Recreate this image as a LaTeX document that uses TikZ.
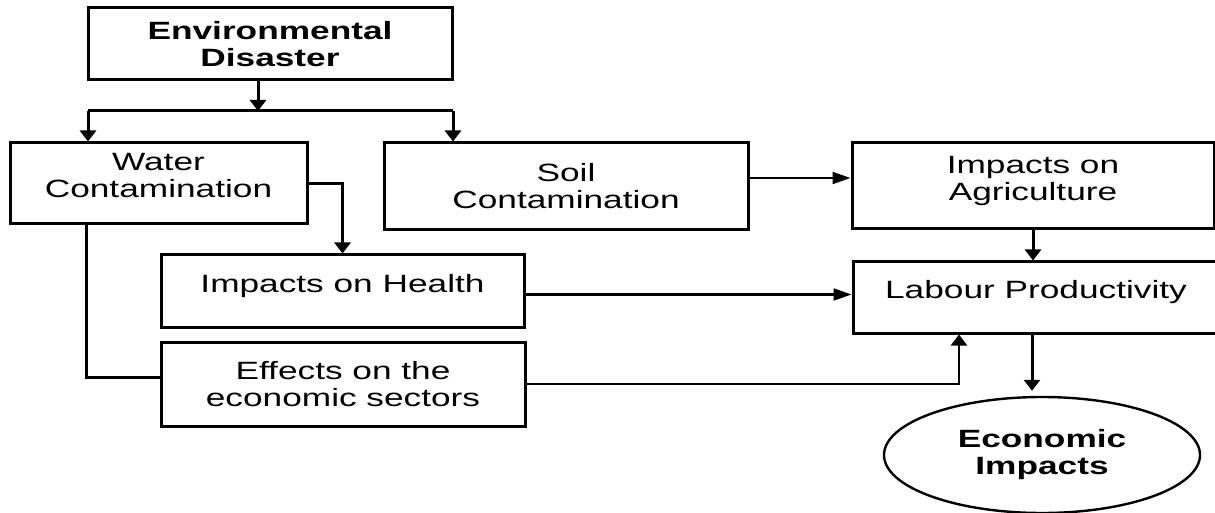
\documentclass[tikz,border=0pt]{standalone}
\usepackage{fontspec}
\setmainfont[FakeStretch=1.41]{Liberation Sans}
\usetikzlibrary{arrows.meta,shapes.geometric}
\tikzstyle{flowbox} = [draw=black, line width=1.5pt, rectangle,
    align=center, inner sep=0pt, font=\fontsize{12.5}{13.5}\selectfont]
\tikzstyle{hightext} = [text depth=8pt]
\tikzstyle{oval} = [draw=black, line width=1.2pt, ellipse, align=center,
    inner sep=0pt, font=\fontsize{12.5}{13.5}\selectfont\bfseries]
\tikzstyle{thickline} = [line width=1.5pt]
\tikzstyle{thinline} = [line width=1.1pt]
\tikzstyle{shortarrow} = [-{Triangle[length=5.5pt,width=8pt]}]
\tikzstyle{longarrow} = [-{Triangle[length=9pt,width=6pt]}]

\begin{document}
\begin{tikzpicture}[x=0.5pt, y=-0.5pt]
\useasboundingbox (0,0) rectangle (1215,513);
% boxes
\node [flowbox, minimum width=182pt, minimum height=36pt, font=\fontsize{12.5}{13.5}\selectfont\bfseries]
    (dis) at (270,44) {Environmental\\Disaster};
\node [flowbox, hightext, minimum width=148.5pt, minimum height=40.5pt]
    (water) at (158.5,183.5) {Water\\Contamination};
\node [flowbox, minimum width=182pt, minimum height=43.5pt]
    (soil) at (566,186.5) {Soil\\Contamination};
\node [flowbox, hightext, minimum width=181pt, minimum height=43pt]
    (agri) at (1033,186) {Impacts on\\Agriculture};
\node [flowbox, hightext, minimum width=181.5pt, minimum height=36pt]
    (health) at (342.5,291) {Impacts on Health};
\node [flowbox, minimum width=182pt, minimum height=42pt]
    (effects) at (343,384) {Effects on the\\economic sectors};
\node [flowbox, hightext, minimum width=183pt, minimum height=35.5pt]
    (labour) at (1036,297.5) {Labour Productivity};
\node [oval, minimum width=158pt, minimum height=58pt]
    (econ) at (1042,455) {Economic\\Impacts};

% connectors
\coordinate (fork) at (258,111);
\coordinate (forkl) at (88,111);
\coordinate (forkr) at (453,111);
\coordinate (wbend) at (86,377);
\draw [thickline, shortarrow] (fork |- dis.south) -- (fork);
\draw [thickline] (forkl) -- (forkr);
\draw [thickline, shortarrow] (forkl) -- (forkl |- water.north);
\draw [thickline, shortarrow] (forkr) -- (forkr |- soil.north);
\draw [thickline, shortarrow] (water.east) -| (health.north);
\draw [thickline] (wbend |- water.south) -- (wbend) -- (wbend -| effects.west);
\draw [thinline, longarrow] ([yshift=4.25pt]soil.east) -- ([yshift=4.25pt]soil.east -| agri.west);
\draw [thickline, shortarrow] (agri.south) -- (agri.south |- labour.north);
\draw [thinline, longarrow] ([yshift=-1.75pt]health.east) -- ([yshift=-1.75pt]health.east -| labour.west);
\draw [thinline, shortarrow] (effects.east) -| ([xshift=-38.5pt]labour.south);
\draw [thickline, shortarrow, shorten >=2.5pt] ([xshift=-2pt]labour.south) -- ([xshift=-2pt]labour.south |- econ.north);
\end{tikzpicture}
\end{document}
